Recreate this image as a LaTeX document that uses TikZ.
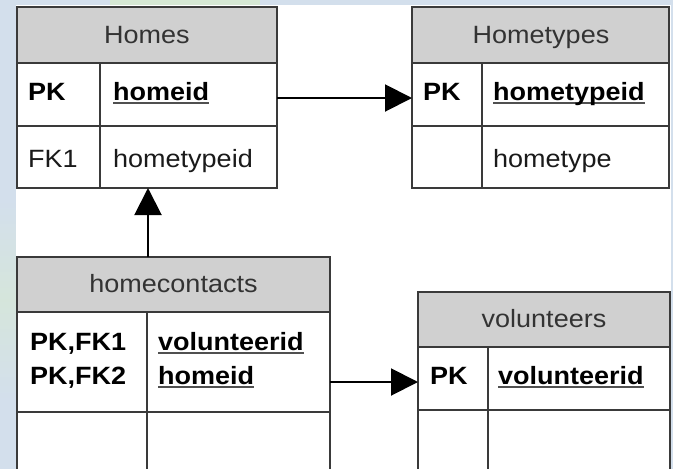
\documentclass[tikz,border=0pt]{standalone}
\usepackage{fontspec}
\setmainfont{Liberation Sans}[FakeStretch=1.08]
\usetikzlibrary{arrows.meta}
\definecolor{linec}{HTML}{3A3A3A}
\definecolor{hdrgray}{HTML}{D0D0D0}
\definecolor{hdrtxt}{HTML}{333333}
\definecolor{bodytxt}{HTML}{1A1A1A}
\definecolor{ulc}{HTML}{505050}
\definecolor{bgblue}{HTML}{D3DFEC}
\definecolor{bggreen}{HTML}{D6E8D4}
\newcommand\uln[1]{\setbox0\hbox{#1}\rlap{\color{ulc}\rule[-4pt]{\wd0}{2pt}}\box0}
\begin{document}
\begin{tikzpicture}[x=1pt,y=-1pt,
  box/.style={draw=linec, line width=1.8pt, anchor=north west, inner sep=0pt, outer sep=0pt},
  hdr/.style={box, fill=hdrgray},
  row/.style={box, fill=white},
  divl/.style={draw=linec, line width=1.8pt},
  ttl/.style={anchor=base, inner sep=0pt, text=hdrtxt, font=\fontsize{25}{30}\selectfont},
  txt/.style={anchor=base west, inner sep=0pt, text=bodytxt, font=\fontsize{25}{30}\selectfont},
  btxt/.style={txt, text=black, font=\fontsize{25}{30}\selectfont\bfseries},
  conn/.style={draw=black, line width=2pt, -{Triangle[length=27pt,width=27pt]}}]
\clip (0,0) rectangle (673,469);
% background
\fill[bgblue] (0,0) rectangle (673,469);
\fill[bggreen] (110,0) rectangle (260,5);
\shade[top color=bgblue, bottom color=bggreen!70!bgblue] (0,200) rectangle (16,300);
\shade[top color=bggreen!70!bgblue, bottom color=bgblue] (0,300) rectangle (16,400);
\fill[white] (16,5) rectangle (671,469);
% Homes
\node[hdr, minimum width=260pt, minimum height=56pt] (hh) at (17,7) {};
\node[row, minimum width=260pt, minimum height=63pt] (hr1) at (17,63) {};
\node[row, minimum width=260pt, minimum height=62pt] (hr2) at (17,126) {};
\draw[divl] (100,63) -- (100,188);
\node[ttl] (hhT) at (147,43) {Homes};
\node[btxt] (hpk) at (28,100) {PK};
\node[btxt] (hid) at (113,100) {\uln{homeid}};
\node[txt] (hfk) at (28,167) {FK1};
\node[txt] (htid) at (113,167) {hometypeid};
% Hometypes
\node[hdr, minimum width=257pt, minimum height=56pt] (th) at (412,7) {};
\node[row, minimum width=257pt, minimum height=63pt] (tr1) at (412,63) {};
\node[row, minimum width=257pt, minimum height=62pt] (tr2) at (412,126) {};
\draw[divl] (482,63) -- (482,188);
\node[ttl] (thT) at (541,43) {Hometypes};
\node[btxt] (tpk) at (423,100) {PK};
\node[btxt] (tid) at (493,100) {\uln{hometypeid}};
\node[txt] (ttype) at (493,167) {hometype};
% homecontacts
\node[hdr, minimum width=313pt, minimum height=55pt] (ch) at (17,257) {};
\node[row, minimum width=313pt, minimum height=100pt] (cr1) at (17,312) {};
\node[row, minimum width=313pt, minimum height=80pt] (cr2) at (17,412) {};
\draw[divl] (147,312) -- (147,480);
\node[ttl] (chT) at (173.5,292) {homecontacts};
\node[btxt] (cpk1) at (30,350) {PK,FK1};
\node[btxt] (cpk2) at (30,384) {PK,FK2};
\node[btxt] (cv) at (158,350) {\uln{volunteerid}};
\node[btxt] (chid) at (158,384) {\uln{homeid}};
% volunteers
\node[hdr, minimum width=252pt, minimum height=55pt] (vh) at (418,292) {};
\node[row, minimum width=252pt, minimum height=63pt] (vr1) at (418,347) {};
\node[row, minimum width=252pt, minimum height=80pt] (vr2) at (418,410) {};
\draw[divl] (488,347) -- (488,480);
\node[ttl] (vhT) at (544,327) {volunteers};
\node[btxt] (vpk) at (430,384) {PK};
\node[btxt] (vid) at (498,384) {\uln{volunteerid}};
% connectors
\coordinate (a1y) at (0,98);
\coordinate (a2y) at (0,382);
\coordinate (a3x) at (148,0);
\draw[conn] (hr1.east |- a1y) -- (tr1.west |- a1y);
\draw[conn] (a3x |- ch.north) -- (a3x |- hr2.south);
\draw[conn] (cr1.east |- a2y) -- (vr1.west |- a2y);
\end{tikzpicture}
\end{document}
